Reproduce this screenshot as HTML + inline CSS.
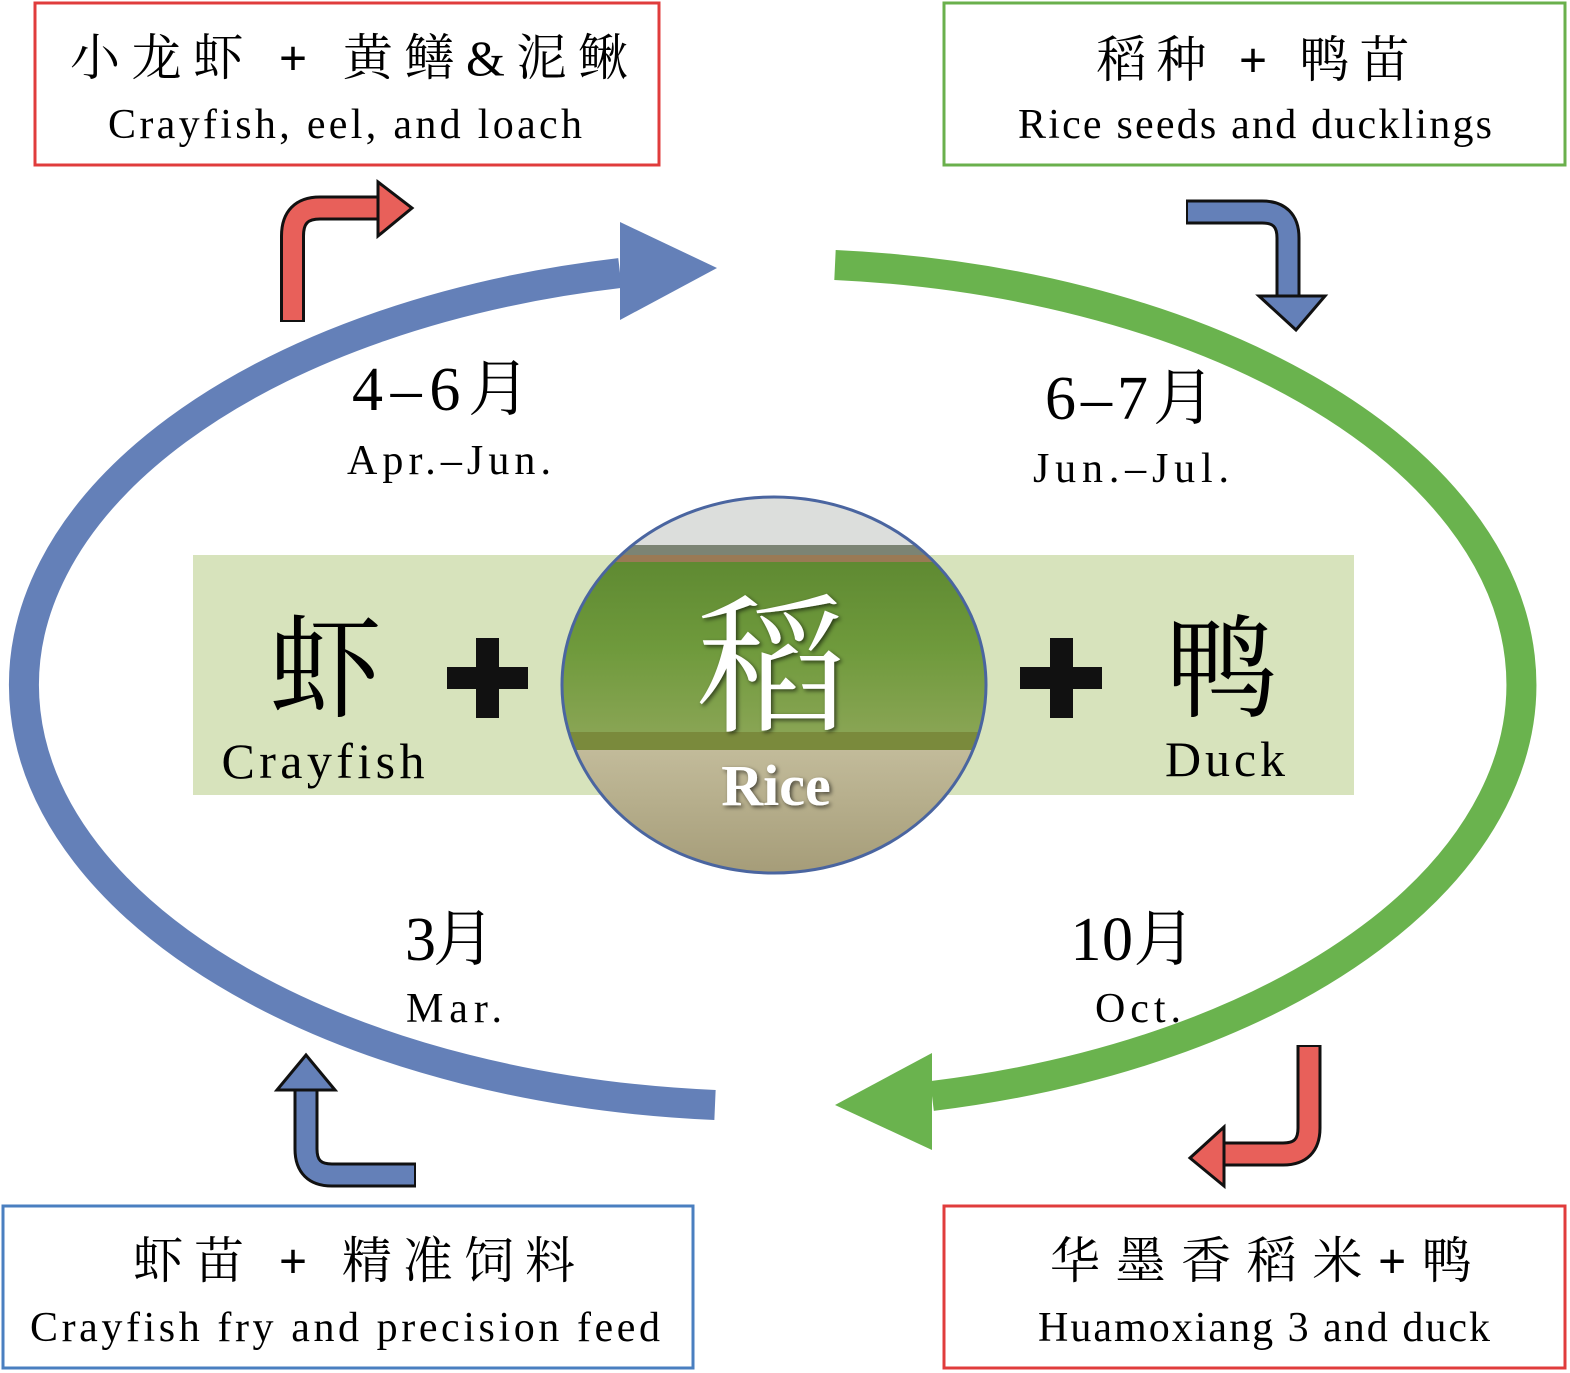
<!DOCTYPE html>
<html><head><meta charset="utf-8"><style>
html,body{margin:0;padding:0;background:#fff}
svg{display:block}
.s{font-family:"Liberation Serif","Noto Serif CJK SC",serif}
.c{font-family:"Liberation Serif","Noto Serif CJK SC","Noto Sans CJK SC",serif}
</style></head><body>
<svg width="1570" height="1373" viewBox="0 0 1570 1373" xmlns="http://www.w3.org/2000/svg">
<defs>
<clipPath id="cc"><ellipse cx="774" cy="685" rx="212" ry="188"/></clipPath>
<linearGradient id="fld" x1="0" y1="0" x2="0" y2="1">
<stop offset="0" stop-color="#5f8a32"/><stop offset="0.5" stop-color="#6f9a3c"/><stop offset="1" stop-color="#8aa555"/>
</linearGradient>
<linearGradient id="wat" x1="0" y1="0" x2="0" y2="1">
<stop offset="0" stop-color="#c2bb9a"/><stop offset="1" stop-color="#a59c78"/>
</linearGradient>
<filter id="sh"><feDropShadow dx="2" dy="2" stdDeviation="2" flood-color="#000" flood-opacity="0.6"/></filter>
</defs>

<rect x="35" y="3" width="624" height="162" fill="none" stroke="#e03c3c" stroke-width="3"/>
<rect x="944" y="3" width="621" height="162" fill="none" stroke="#6ab04c" stroke-width="3"/>
<rect x="3" y="1206" width="690" height="162" fill="none" stroke="#4a7fc0" stroke-width="3"/>
<rect x="944" y="1206" width="621" height="162" fill="none" stroke="#e03c3c" stroke-width="3"/>

<text class="c" x="349" y="75" font-size="50" text-anchor="middle" textLength="558" lengthAdjust="spacing">小龙虾 <tspan font-weight="bold">+</tspan> 黄鳝&amp;泥鳅</text>
<text class="s" x="345" y="138" font-size="42" text-anchor="middle" textLength="474" lengthAdjust="spacing">Crayfish, eel, and loach</text>
<text class="c" x="1253" y="77" font-size="50" text-anchor="middle" textLength="313" lengthAdjust="spacing">稻种 <tspan font-weight="bold">+</tspan> 鸭苗</text>
<text class="s" x="1255" y="138" font-size="42" text-anchor="middle" textLength="474" lengthAdjust="spacing">Rice seeds and ducklings</text>
<text class="c" x="354" y="1278" font-size="50" text-anchor="middle" textLength="442" lengthAdjust="spacing">虾苗 <tspan font-weight="bold">+</tspan> 精准饲料</text>
<text class="s" x="345" y="1341" font-size="42" text-anchor="middle" textLength="630" lengthAdjust="spacing">Crayfish fry and precision feed</text>
<text class="c" x="1261" y="1278" font-size="50" text-anchor="middle" textLength="422" lengthAdjust="spacing">华墨香稻米<tspan font-weight="bold">+</tspan>鸭</text>
<text class="s" x="1264" y="1341" font-size="42" text-anchor="middle" textLength="452" lengthAdjust="spacing">Huamoxiang 3 and duck</text>

<path d="M715,1105 A748,421 0 0 1 620,273" fill="none" stroke="#6480b8" stroke-width="30"/>
<polygon points="620,222 717,268 620,320" fill="#6480b8"/>
<path d="M835,265 A748,421 0 0 1 932,1096" fill="none" stroke="#6ab34e" stroke-width="30"/>
<polygon points="932,1053 835,1105 932,1150" fill="#6ab34e"/>

<g stroke-linejoin="miter">
<path d="M292.5,322 L292.5,236 Q292.5,208 320,208 L380,208" fill="none" stroke="#111" stroke-width="25"/>
<path d="M292.5,320 L292.5,236 Q292.5,208 320,208 L382,208" fill="none" stroke="#e8605a" stroke-width="19"/>
<polygon points="378,182 412,208 378,236" fill="#e8605a" stroke="#111" stroke-width="3"/>

<path d="M1186,212 L1262,212 Q1288,212 1288,238 L1288,298" fill="none" stroke="#111" stroke-width="25"/>
<path d="M1188,212 L1262,212 Q1288,212 1288,238 L1288,300" fill="none" stroke="#6480b8" stroke-width="19"/>
<polygon points="1259,296 1296,330 1325,296" fill="#6480b8" stroke="#111" stroke-width="3"/>

<path d="M1309,1045 L1309,1128 Q1309,1154 1283,1154 L1222,1154" fill="none" stroke="#111" stroke-width="25"/>
<path d="M1309,1047 L1309,1128 Q1309,1154 1283,1154 L1220,1154" fill="none" stroke="#e8605a" stroke-width="19"/>
<polygon points="1224,1127 1190,1158 1224,1186" fill="#e8605a" stroke="#111" stroke-width="3"/>

<path d="M416,1175 L332,1175 Q306,1175 306,1149 L306,1088" fill="none" stroke="#111" stroke-width="25"/>
<path d="M414,1175 L332,1175 Q306,1175 306,1149 L306,1086" fill="none" stroke="#6480b8" stroke-width="19"/>
<polygon points="277,1090 306,1055 335,1090" fill="#6480b8" stroke="#111" stroke-width="3"/>
</g>

<text class="c" x="441" y="410" font-size="62" text-anchor="middle" textLength="178" lengthAdjust="spacing">4–6月</text>
<text class="s" x="449" y="474" font-size="42" text-anchor="middle" textLength="204" lengthAdjust="spacing">Apr.–Jun.</text>
<text class="c" x="1130" y="419" font-size="62" text-anchor="middle" textLength="170" lengthAdjust="spacing">6–7月</text>
<text class="s" x="1131" y="482" font-size="42" text-anchor="middle" textLength="196" lengthAdjust="spacing">Jun.–Jul.</text>
<text class="c" x="450" y="960" font-size="62" text-anchor="middle" textLength="90" lengthAdjust="spacing">3月</text>
<text class="s" x="454" y="1022" font-size="42" text-anchor="middle" textLength="96" lengthAdjust="spacing">Mar.</text>
<text class="c" x="1133" y="960" font-size="62" text-anchor="middle" textLength="125" lengthAdjust="spacing">10月</text>
<text class="s" x="1138" y="1022" font-size="42" text-anchor="middle" textLength="86" lengthAdjust="spacing">Oct.</text>

<rect x="193" y="555" width="1161" height="240" fill="#d7e3bc"/>
<text class="c" x="325" y="708" font-size="112" text-anchor="middle">虾</text>
<text class="s" x="323" y="778" font-size="50" text-anchor="middle" textLength="203" lengthAdjust="spacing">Crayfish</text>
<text class="c" x="1222" y="708" font-size="112" text-anchor="middle">鸭</text>
<text class="s" x="1225" y="776" font-size="50" text-anchor="middle" textLength="120" lengthAdjust="spacing">Duck</text>
<rect x="447" y="667" width="81" height="22" fill="#111"/>
<rect x="476" y="638" width="23" height="80" fill="#111"/>
<rect x="1020" y="667" width="82" height="22" fill="#111"/>
<rect x="1050" y="638" width="23" height="80" fill="#111"/>

<g clip-path="url(#cc)">
<rect x="560" y="495" width="430" height="55" fill="#dcdedc"/>
<rect x="560" y="545" width="430" height="12" fill="#7c8474"/>
<rect x="560" y="555" width="430" height="8" fill="#9a7a55"/>
<rect x="560" y="562" width="430" height="175" fill="url(#fld)"/>
<rect x="560" y="732" width="430" height="20" fill="#7a8a3c"/>
<rect x="560" y="750" width="430" height="125" fill="url(#wat)"/>
</g>
<ellipse cx="774" cy="685" rx="212" ry="188" fill="none" stroke="#4a65a0" stroke-width="3"/>
<text class="c" x="772" y="720" font-size="150" fill="#fff" text-anchor="middle" filter="url(#sh)">稻</text>
<text class="s" x="776" y="805" font-size="58" font-weight="bold" fill="#fff" text-anchor="middle" filter="url(#sh)">Rice</text>
</svg>
</body></html>
